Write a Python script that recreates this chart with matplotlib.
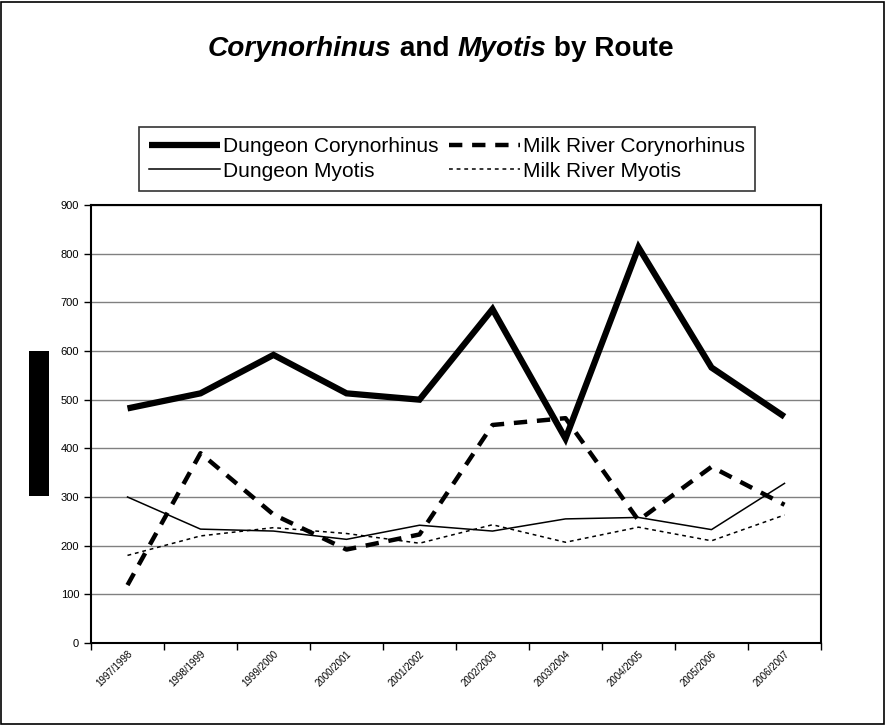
import matplotlib
matplotlib.use("Agg")
import matplotlib.pyplot as plt
from matplotlib.patches import Rectangle

plt.rcParams['font.family'] = ['Liberation Sans', 'DejaVu Sans']

years = ["1997/1998", "1998/1999", "1999/2000", "2000/2001", "2001/2002",
         "2002/2003", "2003/2004", "2004/2005", "2005/2006", "2006/2007"]
dungeon_coryno = [482, 513, 592, 513, 500, 686, 420, 813, 566, 465]
milk_coryno = [119, 390, 264, 192, 223, 448, 462, 252, 362, 284]
dungeon_myotis = [300, 234, 230, 213, 242, 230, 255, 258, 233, 328]
milk_myotis = [180, 220, 237, 225, 205, 243, 207, 238, 210, 263]
yticks = list(range(0, 1000, 100))

W, H = 886, 725
fig = plt.figure(figsize=(W / 100, H / 100), dpi=100)
fig.patch.set_facecolor('white')

fig.add_artist(Rectangle((1 / W, 1 / H), (W - 3) / W, (H - 3) / H, transform=fig.transFigure,
                         fill=False, edgecolor='black', linewidth=1.2))

ax = fig.add_axes([91 / W, 1 - 643 / H, (821 - 91) / W, (643 - 205) / H])
x = list(range(len(years)))

l1, = ax.plot(x, dungeon_coryno, color='black', lw=4.5, solid_capstyle='butt', solid_joinstyle='miter')
l2, = ax.plot(x, milk_coryno, color='black', lw=3.2, linestyle=(0, (3, 2.2)))
l3, = ax.plot(x, dungeon_myotis, color='black', lw=1.1)
l4, = ax.plot(x, milk_myotis, color='black', lw=1.1, linestyle=(0, (2.5, 2.5)))

ax.set_ylim(0, 900)
ax.set_xlim(-0.5, len(years) - 0.5)
ax.set_yticks(yticks)
ax.set_yticklabels([str(v) for v in yticks], fontsize=8)
ax.yaxis.grid(True, color='#808080', lw=1)
ax.set_axisbelow(True)
ax.set_xticks([i - 0.5 for i in range(len(years) + 1)])
ax.set_xticklabels([])
ax.set_xticks(x, minor=True)
ax.set_xticklabels(years, minor=True, rotation=45, ha='right', va='top', fontsize=7,
                   rotation_mode='anchor')
ax.tick_params(axis='x', which='minor', length=0, pad=4)
ax.tick_params(axis='both', which='major', length=5, direction='out', color='black', width=1)
for s in ax.spines.values():
    s.set_linewidth(1.5)
    s.set_color('black')

fig.add_artist(Rectangle((29 / W, 1 - 496 / H), 20 / W, 145 / H, transform=fig.transFigure,
                         facecolor='black', edgecolor='none'))

fs = 20.2
ty = 1 - 62 / H
t1 = fig.text(208 / W, ty, "Corynorhinus", fontsize=fs, fontweight='bold', style='italic',
              va='bottom', ha='left')
a2 = fig.add_artist(plt.Annotation(" and ", xy=(1, 0), xycoords=t1, va='bottom', ha='left',
                                   fontsize=fs, fontweight='bold'))
a3 = fig.add_artist(plt.Annotation("Myotis", xy=(1, 0), xycoords=a2, va='bottom', ha='left',
                                   fontsize=fs, fontweight='bold', style='italic'))
a4 = fig.add_artist(plt.Annotation(" by Route", xy=(1, 0), xycoords=a3, va='bottom', ha='left',
                                   fontsize=fs, fontweight='bold'))

leg = fig.legend([l1, l3, l2, l4],
                 ["Dungeon Corynorhinus", "Dungeon Myotis", "Milk River Corynorhinus", "Milk River Myotis"],
                 ncol=2, loc='center', bbox_to_anchor=(447 / W, 1 - 159 / H), fontsize=15,
                 frameon=True, fancybox=False, edgecolor='black', handlelength=3.4,
                 handletextpad=0.15, columnspacing=0.5, borderpad=0.5, labelspacing=0.25,
                 borderaxespad=0)
leg.get_frame().set_linewidth(1.2)

fig.savefig("out.png", dpi=100)
